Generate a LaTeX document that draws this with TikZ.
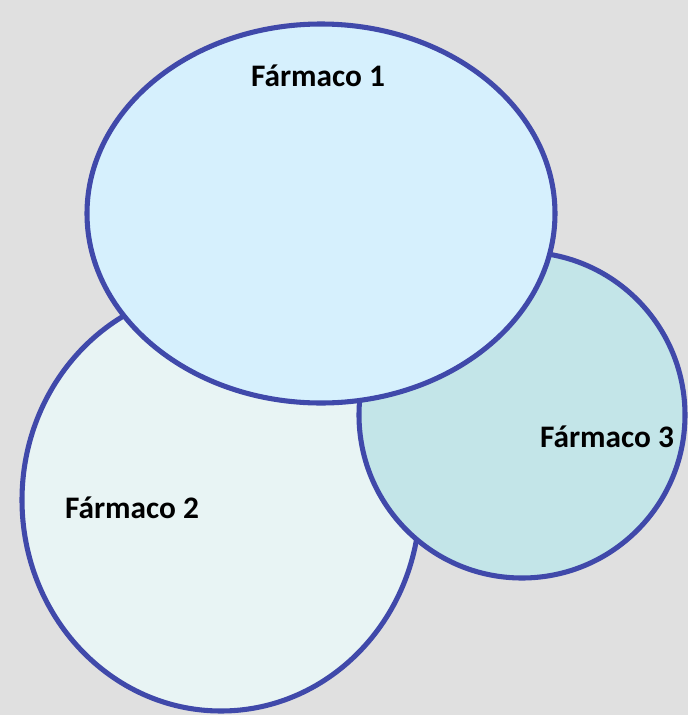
\documentclass[tikz,border=0pt]{standalone}
\usepackage{fontspec}
\setmainfont{Carlito}
\usepackage{xcolor}
\definecolor{bggray}{HTML}{E0E0E0}
\definecolor{rimblue}{HTML}{4049AA}
\definecolor{fillone}{HTML}{D6F0FD}
\definecolor{filltwo}{HTML}{E8F4F4}
\definecolor{fillthree}{HTML}{C3E5E8}

\begin{document}
\begin{tikzpicture}[x=0.75pt,y=-0.75pt]
\tikzset{rim/.style={draw=rimblue, line width=3.8pt},
         farm/.style={font=\fontsize{23.5}{28}\selectfont\bfseries, text=black}}
\fill[bggray] (0,0) rectangle (688,715);
\useasboundingbox (0,0) rectangle (688,715);
% back to front: 2, 3, 1
\filldraw[rim, fill=filltwo] (221,500) ellipse [x radius=199, y radius=211];
\filldraw[rim, fill=fillthree] (522,415) ellipse [x radius=163, y radius=163];
\filldraw[rim, fill=fillone] (321,213.5) ellipse [x radius=234, y radius=189.5];
\node[farm] (f1) at (318,76) {Fármaco 1};
\node[farm] (f2) at (132,508) {Fármaco 2};
\node[farm] (f3) at (607,437) {Fármaco 3};
\end{tikzpicture}
\end{document}
